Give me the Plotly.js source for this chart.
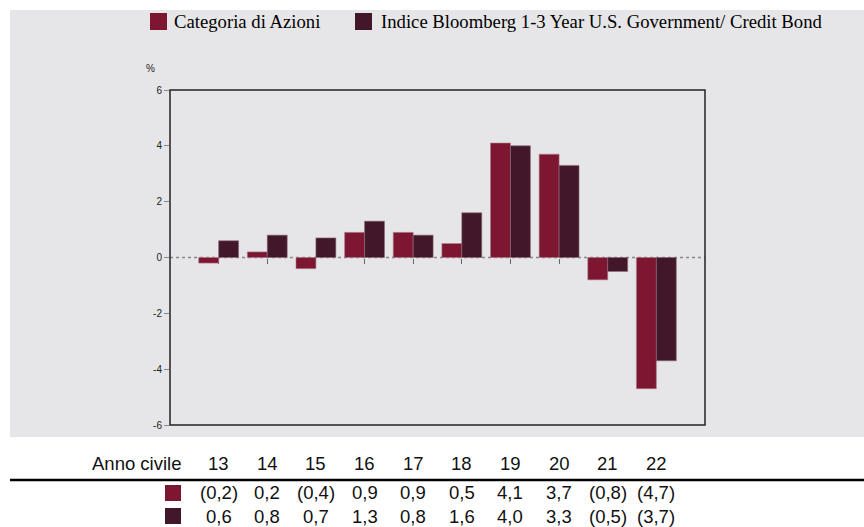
<!DOCTYPE html>
<html><head><meta charset="utf-8">
<script src="https://cdn.plot.ly/plotly-3.0.1.min.js"></script>
<style>html,body{margin:0;padding:0;background:#fff}#chart{width:864px;height:527px}</style>
</head><body><div id="chart"></div>
<script>
const years = ['13','14','15','16','17','18','19','20','21','22'];
const categoria = [-0.2, 0.2, -0.4, 0.9, 0.9, 0.5, 4.1, 3.7, -0.8, -4.7];
const indice = [0.6, 0.8, 0.7, 1.3, 0.8, 1.6, 4.0, 3.3, -0.5, -3.7];
const seriesNames = ['Categoria di Azioni', 'Indice Bloomberg 1-3 Year U.S. Government/ Credit Bond'];
const seriesColors = ['#7c1631', '#43172a'];
const yTicks = [-6, -4, -2, 0, 2, 4, 6];

const fmt = v => {
  const s = Math.abs(v).toFixed(1).replace('.', ',');
  return v < 0 ? '(' + s + ')' : s;
};

// pixel geometry helpers
const W = 864, H = 527, L = 170, R = 159, T = 90, B = 102;
const pw = W - L - R, ph = H - T - B;
const px = x => (x - L) / pw;
const py = y => (H - B - y) / ph;

const tableFont = {family: 'Liberation Sans, Arial, sans-serif', size: 18.5, color: '#111'};
const legendFont = {family: 'Liberation Serif, Times New Roman, serif', size: 18.7, color: '#000'};

const annotations = [];
annotations.push({xref: 'paper', yref: 'paper', x: px(150), y: py(68), text: '%', showarrow: false,
  font: {family: 'Liberation Sans, Arial', size: 10, color: '#222'}, xanchor: 'center', yanchor: 'middle'});
annotations.push({xref: 'paper', yref: 'paper', x: px(183), y: py(463), text: 'Anno civile', showarrow: false,
  font: tableFont, xanchor: 'right', yanchor: 'middle'});
years.forEach((yr, i) => {
  annotations.push({xref: 'x', yref: 'paper', x: i, y: py(463), text: yr, showarrow: false, font: tableFont, xanchor: 'center', yanchor: 'middle'});
  annotations.push({xref: 'x', yref: 'paper', x: i, y: py(492), text: fmt(categoria[i]), showarrow: false, font: tableFont, xanchor: 'center', yanchor: 'middle'});
  annotations.push({xref: 'x', yref: 'paper', x: i, y: py(516), text: fmt(indice[i]), showarrow: false, font: tableFont, xanchor: 'center', yanchor: 'middle'});
});
const swatch = (cx, cy, color, size) => ({xref: 'paper', yref: 'paper', x: px(cx), y: py(cy), text: ' ', showarrow: false,
  width: size, height: size, bgcolor: color, borderpad: 0, borderwidth: 0, xanchor: 'center', yanchor: 'middle'});
[493, 516].forEach((yy, k) => annotations.push(swatch(173, yy, seriesColors[k], 16)));
// legend
const legendItems = [{sx: 158, tx: 172}, {sx: 363, tx: 379}];
legendItems.forEach((it, k) => {
  annotations.push(swatch(it.sx, 22, seriesColors[k], 17));
  annotations.push({xref: 'paper', yref: 'paper', x: px(it.tx), y: py(22), text: seriesNames[k], showarrow: false,
    font: legendFont, xanchor: 'left', yanchor: 'middle'});
});

const shapes = [
  {type: 'rect', xref: 'paper', yref: 'paper', x0: px(10), x1: px(864), y0: py(437), y1: py(10), fillcolor: '#e6e6e8', line: {width: 0}, layer: 'below'},
  {type: 'line', xref: 'paper', yref: 'y', x0: 0, x1: 1, y0: 0, y1: 0, line: {color: '#888', width: 1.5, dash: 'dot'}, layer: 'below'},
  {type: 'rect', xref: 'paper', yref: 'paper', x0: 0, x1: 1, y0: 0, y1: 1, line: {color: '#222', width: 1.5}, layer: 'above'},
  {type: 'line', xref: 'paper', yref: 'paper', x0: px(10), x1: px(864), y0: py(480), y1: py(480), line: {color: '#000', width: 2.5}}
];

const traces = [
  {type: 'bar', x: years, y: categoria, name: seriesNames[0], marker: {color: seriesColors[0], line: {width: 0.6, color: '#b07a88'}}, hoverinfo: 'none'},
  {type: 'bar', x: years, y: indice, name: seriesNames[1], marker: {color: seriesColors[1], line: {width: 0.6, color: '#8a6a78'}}, hoverinfo: 'none'}
];

const layout = {
  width: W, height: H,
  margin: {l: L, r: R, t: T, b: B, pad: 0, autoexpand: false},
  paper_bgcolor: '#ffffff',
  plot_bgcolor: 'rgba(0,0,0,0)',
  barmode: 'group', bargap: 0.18, bargroupgap: 0,
  showlegend: false,
  xaxis: {type: 'category', range: [-1, 10], anchor: 'free', position: 0.5, showticklabels: false,
    ticks: 'outside', ticklen: 5, tickcolor: '#666', tickwidth: 1, showline: false, showgrid: false, zeroline: false,
    layer: 'below traces', fixedrange: true},
  yaxis: {range: [-6, 6], tickvals: yTicks, ticktext: yTicks.map(v => String(v)), ticks: 'outside', ticklen: 5,
    tickcolor: '#888', showgrid: false, zeroline: false, showline: false,
    tickfont: {family: 'Liberation Sans, Arial', size: 10, color: '#222'}, fixedrange: true},
  shapes: shapes,
  annotations: annotations
};

Plotly.newPlot('chart', traces, layout, {displayModeBar: false, staticPlot: true});
</script></body></html>
